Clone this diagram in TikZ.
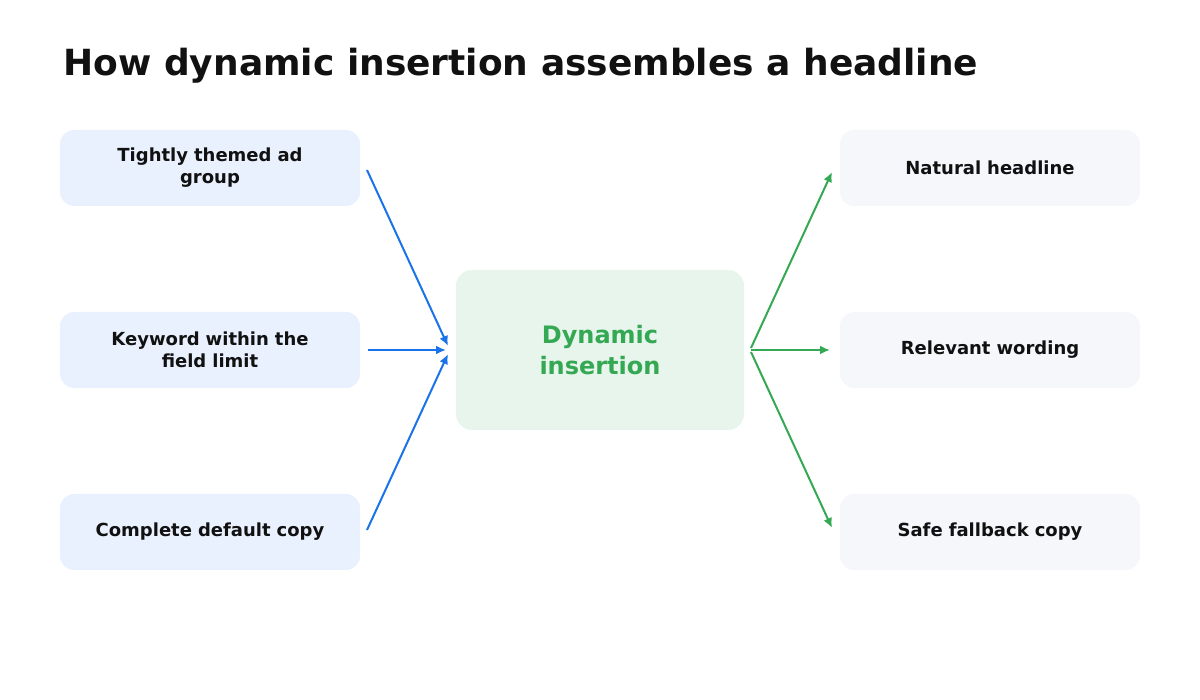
\documentclass[tikz,border=0pt]{standalone}
\usepackage{fontspec}
\setmainfont{DejaVu Sans}
\usetikzlibrary{arrows.meta}
\definecolor{lb}{HTML}{EAF1FE}
\definecolor{rb}{HTML}{F5F7FB}
\definecolor{cb}{HTML}{E8F5EC}
\definecolor{gr}{HTML}{34A853}
\definecolor{bl}{HTML}{1A73E8}
\definecolor{tx}{HTML}{111111}
\begin{document}
\begin{tikzpicture}[x=1pt,y=1pt,
 box/.style={rounded corners=14pt,minimum width=300pt,minimum height=76pt,align=center,text width=270pt,font=\fontsize{18}{22}\selectfont\bfseries,text=tx},
 lbox/.style={box,fill=lb},rbox/.style={box,fill=rb},
 ba/.style={bl,line width=2pt,-{Latex[length=10pt,width=9pt]}},
 ga/.style={gr,line width=2pt,-{Latex[length=10pt,width=9pt]}}]
\useasboundingbox (0,0) rectangle (1200,700);
\node[anchor=base west,font=\fontsize{36}{40}\selectfont\bfseries,text=tx] (title) at (60,624) {How dynamic insertion assembles a headline};
\node[lbox] (l1) at (210,532) {Tightly themed ad\\group};
\node[lbox] (l2) at (210,350) {Keyword within the\\field limit};
\node[lbox] (l3) at (210,168) {Complete default copy};
\node[rbox] (r1) at (990,532) {Natural headline};
\node[rbox] (r2) at (990,350) {Relevant wording};
\node[rbox] (r3) at (990,168) {Safe fallback copy};
\node[fill=cb,rounded corners=16pt,minimum width=288pt,minimum height=160pt,align=center,text=gr,font=\fontsize{24}{31}\selectfont\bfseries] (c) at (600,350) {Dynamic\\insertion};
\coordinate (a1) at (367,530); \coordinate (a2) at (368,350); \coordinate (a3) at (367,170);
\coordinate (e1) at (448,354); \coordinate (e2) at (446,350); \coordinate (e3) at (448,346);
\coordinate (s1) at (751,352); \coordinate (s2) at (751,350); \coordinate (s3) at (751,348);
\coordinate (t1) at (832,528); \coordinate (t2) at (830,350); \coordinate (t3) at (832,172);
\draw[ba] (a1) -- (e1); \draw[ba] (a2) -- (e2); \draw[ba] (a3) -- (e3);
\draw[ga] (s1) -- (t1); \draw[ga] (s2) -- (t2); \draw[ga] (s3) -- (t3);
\end{tikzpicture}
\end{document}
